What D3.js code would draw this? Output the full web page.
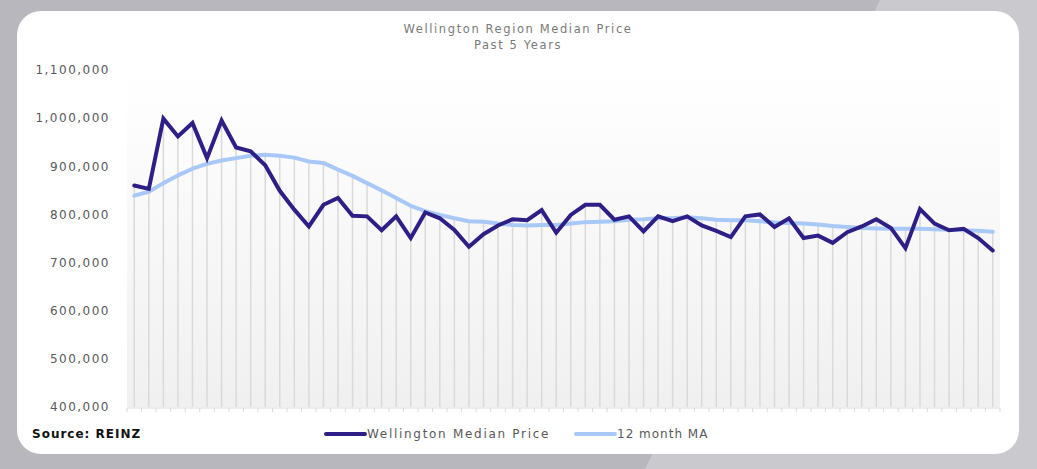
<!DOCTYPE html>
<html>
<head>
<meta charset="utf-8">
<script src="https://cdn.jsdelivr.net/npm/d3@7"></script>
<style>
  html, body { margin: 0; padding: 0; background: #b8b7bd; overflow: hidden; }
  svg { display: block; font-family: "DejaVu Sans", sans-serif; }
</style>
</head>
<body>
<svg id="chart" width="1037" height="469"></svg>
<script>
// monthly median price, Wellington region, oldest first
const medianPrice = [
  860000, 853000, 999000, 962000, 990000, 917000, 995000, 939000, 931000, 902000,
  849000, 810000, 775000, 820000, 834000, 797000, 796000, 767000, 796000, 751000,
  804000, 792000, 768000, 733000, 759000, 777000, 790000, 788000, 809000, 762000,
  799000, 820000, 820000, 789000, 796000, 765000, 796000, 786000, 796000, 777000,
  766000, 753000, 796000, 800000, 774000, 792000, 751000, 756000, 741000, 763000,
  775000, 790000, 772000, 730000, 811000, 781000, 767000, 770000, 751000, 725000,
];
const movingAvg = [
  839000, 847000, 865000, 881000, 895000, 905000, 912000, 917000, 922000, 924000,
  922000, 918000, 910000, 907000, 893000, 880000, 865000, 850000, 834000, 818000,
  807000, 799000, 792000, 786000, 785000, 781000, 778000, 777000, 778000, 778000,
  781000, 784000, 785000, 786000, 789000, 790000, 792000, 792000, 794000, 792000,
  789000, 788000, 788000, 786000, 783000, 782000, 781000, 779000, 776000, 774000,
  772000, 771000, 770000, 770000, 770000, 769000, 768000, 767000, 766000, 764000,
];
const yTicks = [400000, 500000, 600000, 700000, 800000, 900000, 1000000, 1100000];
const seriesNames = ["Wellington Median Price", "12 month MA"];
const seriesColors = ["#2d1f86", "#a8c8f8"];

const svg = d3.select("#chart");

// backdrop
svg.append("rect").attr("width", 1037).attr("height", 469).attr("fill", "#b8b7bd");
svg.append("path")
  .attr("d", "M880,0 L1037,0 L1037,469 L645,469 Z")
  .attr("fill", "#cac9ce");
svg.append("rect")
  .attr("x", 17).attr("y", 11).attr("width", 1002).attr("height", 443)
  .attr("rx", 24).attr("fill", "#ffffff");

const defs = svg.append("defs");
const grad = defs.append("linearGradient")
  .attr("id", "plotbg").attr("x1", 0).attr("y1", 0).attr("x2", 0).attr("y2", 1);
grad.append("stop").attr("offset", "0%").attr("stop-color", "#ffffff");
grad.append("stop").attr("offset", "100%").attr("stop-color", "#f0f0f0");

const x = d3.scaleBand().domain(d3.range(medianPrice.length)).range([127, 1000]);
const y = d3.scaleLinear().domain([400000, 1100000]).range([407, 70]);
const cx = (i) => x(i) + x.bandwidth() / 2;

svg.append("rect")
  .attr("x", 127).attr("y", y(1100000))
  .attr("width", 873).attr("height", y(400000) - y(1100000))
  .attr("fill", "url(#plotbg)");

// title
const title = svg.append("text")
  .attr("text-anchor", "middle")
  .attr("fill", "#7a7a7a")
  .attr("font-size", "11.5px")
  .attr("letter-spacing", "1.6px");
title.append("tspan").attr("x", 518).attr("y", 33).text("Wellington Region Median Price");
title.append("tspan").attr("x", 518).attr("y", 49).text("Past 5 Years");

// y axis labels
const yAxis = d3.axisLeft(y).tickValues(yTicks).tickSize(0).tickPadding(0)
  .tickFormat(d3.format(","));
svg.append("g")
  .attr("transform", "translate(110,0)")
  .call(yAxis)
  .call((g) => g.select(".domain").remove())
  .selectAll("text")
  .attr("fill", "#595959")
  .attr("font-size", "12px")
  .attr("letter-spacing", "1.5px")
  .attr("font-family", "DejaVu Sans, sans-serif");

// drop lines
svg.append("g")
  .selectAll("line")
  .data(medianPrice)
  .join("line")
  .attr("x1", (d, i) => cx(i))
  .attr("x2", (d, i) => cx(i))
  .attr("y1", (d, i) => y(Math.max(d, movingAvg[i])))
  .attr("y2", y(400000))
  .attr("stroke", "#dadada")
  .attr("stroke-width", 1.5);

// x axis: baseline and small ticks at category boundaries
const base = y(400000) + 1;
svg.append("line")
  .attr("x1", 127).attr("x2", 1000).attr("y1", base).attr("y2", base)
  .attr("stroke", "#d9d9d9").attr("stroke-width", 1);
svg.append("g")
  .selectAll("line")
  .data(d3.range(medianPrice.length + 1))
  .join("line")
  .attr("x1", (i) => (i < medianPrice.length ? x(i) : x.range()[1]))
  .attr("x2", (i) => (i < medianPrice.length ? x(i) : x.range()[1]))
  .attr("y1", base).attr("y2", base + 4)
  .attr("stroke", "#d9d9d9").attr("stroke-width", 1);

// series
const line = d3.line().x((d, i) => cx(i)).y((d) => y(d));
svg.append("path")
  .attr("d", line(movingAvg))
  .attr("fill", "none")
  .attr("stroke", seriesColors[1])
  .attr("stroke-width", 4)
  .attr("stroke-linejoin", "round")
  .attr("stroke-linecap", "round");
svg.append("path")
  .attr("d", line(medianPrice))
  .attr("fill", "none")
  .attr("stroke", seriesColors[0])
  .attr("stroke-width", 4)
  .attr("stroke-linejoin", "miter")
  .attr("stroke-linecap", "round");

// source
svg.append("text")
  .attr("x", 32).attr("y", 438)
  .attr("font-size", "12px")
  .attr("font-weight", "bold")
  .attr("letter-spacing", "1px")
  .attr("fill", "#111")
  .text("Source: REINZ");

// legend
const legendX = [326, 576];
const legendSpacing = ["1.7px", "1px"];
const legend = svg.append("g")
  .selectAll("g")
  .data(seriesNames)
  .join("g")
  .attr("transform", (d, i) => "translate(" + legendX[i] + ",434)");
legend.append("line")
  .attr("x1", 0).attr("x2", 39).attr("y1", 0).attr("y2", 0)
  .attr("stroke", (d, i) => seriesColors[i])
  .attr("stroke-width", 4)
  .attr("stroke-linecap", "round");
legend.append("text")
  .attr("x", 41).attr("y", 4)
  .attr("font-size", "12px")
  .attr("letter-spacing", (d, i) => legendSpacing[i])
  .attr("fill", "#595959")
  .text((d) => d);
</script>
</body>
</html>
